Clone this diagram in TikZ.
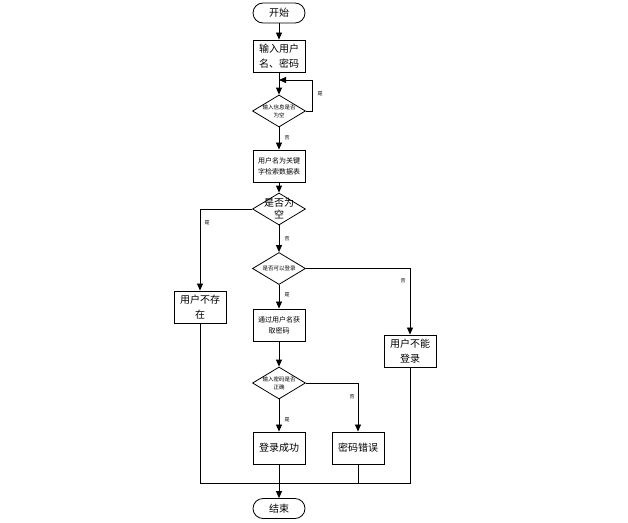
\documentclass[tikz,border=0pt]{standalone}
\usepackage{fontspec}
\newfontfamily\cjk{Noto Sans CJK SC}
\usetikzlibrary{arrows.meta,shapes.geometric}
\tikzset{
  box/.style={draw, line width=0.9pt, fill=white, minimum width=52pt, minimum height=32pt,
    inner sep=1pt, align=center, font=\cjk\fontsize{10}{15}\selectfont},
  smallbox/.style={box, font=\cjk\fontsize{7}{11}\selectfont},
  term/.style={draw, line width=0.8pt, rounded corners=10pt, minimum width=52pt,
    minimum height=20pt, inner sep=0pt, font=\cjk\fontsize{10}{12}\selectfont},
  dec/.style={diamond, draw, line width=0.8pt, minimum width=53pt, minimum height=32pt,
    inner sep=0pt},
  dtext/.style={align=center, font=\cjk\fontsize{5.5}{8}\selectfont},
  yn/.style={font=\cjk\fontsize{5}{6}\selectfont},
  flow/.style={line width=0.8pt},
  arr/.style={flow, -{Triangle[length=7pt,width=6pt]}}
}
\begin{document}
\begin{tikzpicture}[x=1pt,y=-1pt]
\useasboundingbox (0,0) rectangle (628,522);

% process nodes
\node[term] (start) at (279,13) {开始};
\node[box] (input) at (279,56) {输入用户\\名、密码};
\node[dec, label={[dtext]center:输入信息是否\\为空}] (d1) at (279,111) {};
\node[smallbox] (search) at (279,166) {用户名为关键\\字检索数据表};
\node[dec, label={[align=center,font=\cjk\fontsize{10}{12}\selectfont]center:是否为\\空}] (d2) at (279,209) {};
\node[box, text width=44pt] (nouser) at (200,307) {用户不存\\在};
\node[dec, label={[dtext]center:是否可以登录}] (d3) at (279,268.5) {};
\node[box, text width=44pt] (nologin) at (410,351) {用户不能\\登录};
\node[smallbox] (getpw) at (279,325) {通过用户名获\\取密码};
\node[dec, label={[dtext]center:输入密码是否\\正确}] (d4) at (279,383) {};
\node[box] (ok) at (279,448) {登录成功};
\node[box] (wrong) at (358,448) {密码错误};
\node[term] (end) at (279,508.5) {结束};

% junction points
\coordinate (loopr) at (312,111);
\coordinate (loopt) at (312,80);
\coordinate (loopin) at (279,80);
\coordinate (jl) at (200,483);
\coordinate (jr) at (410,483);
\coordinate (jm) at (358,483);

% main flow
\draw[arr] (start) -- (input);
\draw[arr] (input) -- (d1);
\draw[flow] (d1.east) -- (loopr) -- (loopt);
\draw[arr] (loopt) -- (loopin);
\draw[arr] (d1) -- (search);
\draw[arr] (search) -- (d2);
\draw[arr] (d2.west) -| (nouser.north);
\draw[arr] (d2) -- (d3);
\draw[arr] (d3.east) -| (nologin.north);
\draw[arr] (d3) -- (getpw);
\draw[arr] (getpw) -- (d4);
\draw[arr] (d4.east) -| (wrong.north);
\draw[arr] (d4) -- (ok);
\draw[arr] (ok) -- (end);
\draw[flow] (nouser.south) -- (jl) -- (jr) -- (nologin.south);
\draw[flow] (wrong.south) -- (jm);

% branch labels
\node[yn] (y1) at (320,94) {是};
\node[yn] (n1) at (287,138) {否};
\node[yn] (y2) at (207,223) {是};
\node[yn] (n2) at (287,239) {否};
\node[yn] (n3) at (403,281) {否};
\node[yn] (y3) at (287,295) {是};
\node[yn] (n4) at (352,397) {否};
\node[yn] (y4) at (287,420) {是};
\end{tikzpicture}
\end{document}
